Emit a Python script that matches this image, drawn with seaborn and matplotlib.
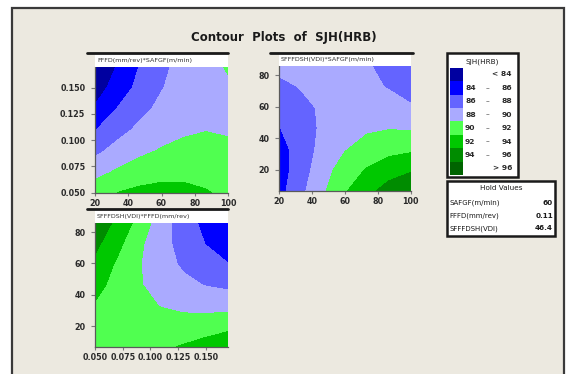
import matplotlib
matplotlib.use("Agg")
import matplotlib.pyplot as plt
from matplotlib.patches import Rectangle
from matplotlib.lines import Line2D
import seaborn as sns

sns.set_theme(style="white")
plt.rcParams['font.family'] = ['DejaVu Sans']

# ---- factor grids -------------------------------------------------------
speed = [20.0, 33.33, 46.67, 60.0, 73.33, 86.67, 100.0]        # SAFGF (m/min)
feed = [0.05, 0.07, 0.09, 0.11, 0.13, 0.15, 0.17]               # FFFD (mm/rev)
vdi = [6.8, 20.0, 33.2, 46.4, 59.6, 72.8, 86.0]                 # SFFFDSH (VDI)

# response SJH(HRB); rows follow the y factor (low -> high), columns the x factor
hrb_feed_speed = [
    [91.25, 92.01, 92.49, 92.67, 92.57, 92.17, 91.49],
    [89.27, 90.24, 90.92, 91.31, 91.41, 91.23, 90.75],
    [87.49, 88.67, 89.56, 90.15, 90.47, 90.49, 90.22],
    [85.91, 87.30, 88.39, 89.20, 89.72, 89.95, 89.89],
    [84.20, 86.05, 87.43, 88.45, 89.18, 89.61, 89.76],
    [83.20, 84.70, 86.60, 87.90, 88.83, 89.48, 89.83],
    [82.30, 84.10, 86.05, 87.55, 88.69, 89.55, 90.11],
]
hrb_vdi_speed = [
    [85.30, 87.50, 89.70, 91.80, 93.40, 94.80, 95.80],
    [85.06, 87.00, 89.25, 90.86, 92.15, 93.11, 93.75],
    [85.20, 86.90, 88.64, 89.87, 90.78, 91.37, 91.63],
    [85.90, 87.13, 88.31, 89.17, 89.70, 89.91, 89.80],
    [86.60, 87.48, 88.28, 88.76, 88.92, 88.75, 88.26],
    [87.36, 88.11, 88.54, 88.64, 88.42, 87.88, 87.01],
    [88.66, 89.04, 89.09, 88.82, 88.22, 87.30, 86.05],
]
hrb_vdi_feed = [
    [91.60, 91.50, 91.50, 91.70, 92.15, 92.80, 93.60],
    [91.70, 91.56, 91.13, 90.89, 90.86, 91.03, 91.40],
    [91.85, 91.29, 90.50, 89.90, 89.51, 89.32, 89.33],
    [92.67, 91.31, 90.15, 89.20, 88.45, 87.90, 87.55],
    [93.60, 91.70, 90.11, 88.79, 87.68, 86.77, 86.06],
    [94.50, 92.60, 90.35, 88.67, 87.20, 85.93, 84.86],
    [95.56, 93.50, 91.30, 88.85, 87.01, 85.38, 84.05],
]

levels = [70, 84, 86, 88, 90, 92, 94, 96, 120]
band_labels = [("<", "84"), ("84", "86"), ("86", "88"), ("88", "90"),
               ("90", "92"), ("92", "94"), ("94", "96"), (">", "96")]
palette = sns.color_palette(['#0000A0', '#0000FF', '#6464FF', '#AAAAFF',
                             '#50FF50', '#00C800', '#008C00', '#006400'])

hold_names = ["SAFGF(m/min)", "FFFD(mm/rev)", "SFFFDSH(VDI)"]
hold_values = ["60", "0.11", "46.4"]

speed_ticks = [20, 40, 60, 80, 100]
feed_ticks = [0.050, 0.075, 0.100, 0.125, 0.150]
vdi_ticks = [20, 40, 60, 80]

# ---- figure in pixel units ---------------------------------------------
W, H = 566, 374
fig = plt.figure(figsize=(W / 100, H / 100), dpi=100)
fig.patch.set_facecolor('white')


def fx(px):
    return px / W


def fy(py):
    return 1 - py / H


TXT = '#1a1a1a'

fig.patches.append(Rectangle((fx(12), fy(380)), fx(564) - fx(12), fy(8) - fy(380),
                             transform=fig.transFigure, facecolor='#ECE9E0',
                             edgecolor='#3a3a3a', lw=1.6, zorder=-5))

fig.text(fx(284), fy(38), "Contour  Plots  of  SJH(HRB)", ha='center', va='center',
         fontsize=8.5, fontweight='bold', color=TXT)


def panel(x0, x1, y0, y1, line_x0, line_x1, xs, ys, zs, xt, yt, xfmt, yfmt, header):
    ax = fig.add_axes([fx(x0), fy(y1), fx(x1) - fx(x0), fy(y0) - fy(y1)])
    ax.set_zorder(1)
    ax.contourf(xs, ys, zs, levels=levels, colors=palette)
    ax.set_xlim(xs[0], xs[-1])
    ax.set_ylim(ys[0], ys[-1])
    ax.set_xticks(xt)
    ax.set_yticks(yt)
    ax.set_xticklabels([xfmt % t for t in xt], fontweight='bold')
    ax.set_yticklabels([yfmt % t for t in yt], fontweight='bold')
    ax.tick_params(axis='both', which='both', direction='out', length=3, width=0.8,
                   color='#7a7a7a', labelsize=5.8, labelcolor='#2a2a2a', pad=4,
                   bottom=True, left=True)
    ax.tick_params(axis='x', length=2, pad=2.5)
    for side in ('top', 'right'):
        ax.spines[side].set_visible(False)
    for side in ('left', 'bottom'):
        ax.spines[side].set_color('#5a5a5a')
        ax.spines[side].set_linewidth(0.9)
    ax.set_facecolor('none')
    # header strip with the panel's factor pair
    fig.patches.append(Rectangle((fx(x0), fy(y0)), fx(x1) - fx(x0), fy(y0 - 12.5) - fy(y0),
                                 transform=fig.transFigure, facecolor='white',
                                 edgecolor='none', zorder=2))
    fig.lines.append(Line2D([fx(line_x0), fx(line_x1)], [fy(y0 - 13.3), fy(y0 - 13.3)],
                            transform=fig.transFigure, color='#1a1a1a', lw=2, zorder=3))
    fig.text(fx(x0 + 2), fy(y0 - 6.2), header, ha='left', va='center',
             fontsize=4.6, color='#333333', zorder=4)
    return ax


panel(95, 228, 66.7, 192.7, 87, 228, speed, feed, hrb_feed_speed,
      speed_ticks, feed_ticks, '%d', '%.3f', "FFFD(mm/rev)*SAFGF(m/min)")
panel(279, 410.7, 66, 190.7, 270, 413, speed, vdi, hrb_vdi_speed,
      speed_ticks, vdi_ticks, '%d', '%d', "SFFFDSH(VDI)*SAFGF(m/min)")
panel(95, 228, 222.7, 346.7, 87, 228, feed, vdi, hrb_vdi_feed,
      feed_ticks, vdi_ticks, '%.3f', '%d', "SFFFDSH(VDI)*FFFD(mm/rev)")

# ---- colour key --------------------------------------------------------
fig.patches.append(Rectangle((fx(447), fy(177)), fx(518) - fx(447), fy(52.7) - fy(177),
                             transform=fig.transFigure, facecolor='white',
                             edgecolor='#1a1a1a', lw=1.8, zorder=2))
fig.text(fx(482), fy(61.5), "SJH(HRB)", ha='center', va='center', fontsize=5.2,
         color=TXT, zorder=4)
row_h = 13.4
for i, (lo, hi) in enumerate(band_labels):
    top = 67.8 + i * row_h
    fig.patches.append(Rectangle((fx(450), fy(top + row_h)), fx(463) - fx(450),
                                 fy(top) - fy(top + row_h), transform=fig.transFigure,
                                 facecolor=palette[i], edgecolor='none', zorder=3))
    yc = fy(top + row_h / 2)
    if lo in ('<', '>'):
        fig.text(fx(512), yc, f"{lo} {hi}", ha='right', va='center', fontsize=5.4,
                 fontweight='bold', color='#2a2a2a', zorder=4)
    else:
        fig.text(fx(465), yc, lo, ha='left', va='center', fontsize=5.4,
                 fontweight='bold', color='#2a2a2a', zorder=4)
        fig.text(fx(487), yc, "–", ha='center', va='center', fontsize=5.4,
                 color='#2a2a2a', zorder=4)
        fig.text(fx(512), yc, hi, ha='right', va='center', fontsize=5.4,
                 fontweight='bold', color='#2a2a2a', zorder=4)

# ---- hold values -------------------------------------------------------
fig.patches.append(Rectangle((fx(447), fy(236)), fx(555) - fx(447), fy(180.7) - fy(236),
                             transform=fig.transFigure, facecolor='white',
                             edgecolor='#1a1a1a', lw=1.8, zorder=2))
fig.text(fx(501), fy(188.5), "Hold Values", ha='center', va='center', fontsize=5.2,
         color=TXT, zorder=4)
for i, (name, val) in enumerate(zip(hold_names, hold_values)):
    yc = fy(203 + i * 12.7)
    fig.text(fx(449.5), yc, name, ha='left', va='center', fontsize=5.0, color=TXT, zorder=4)
    fig.text(fx(553), yc, val, ha='right', va='center', fontsize=5.2,
             fontweight='bold', color=TXT, zorder=4)

fig.savefig("out.png", dpi=100, facecolor=fig.get_facecolor())
